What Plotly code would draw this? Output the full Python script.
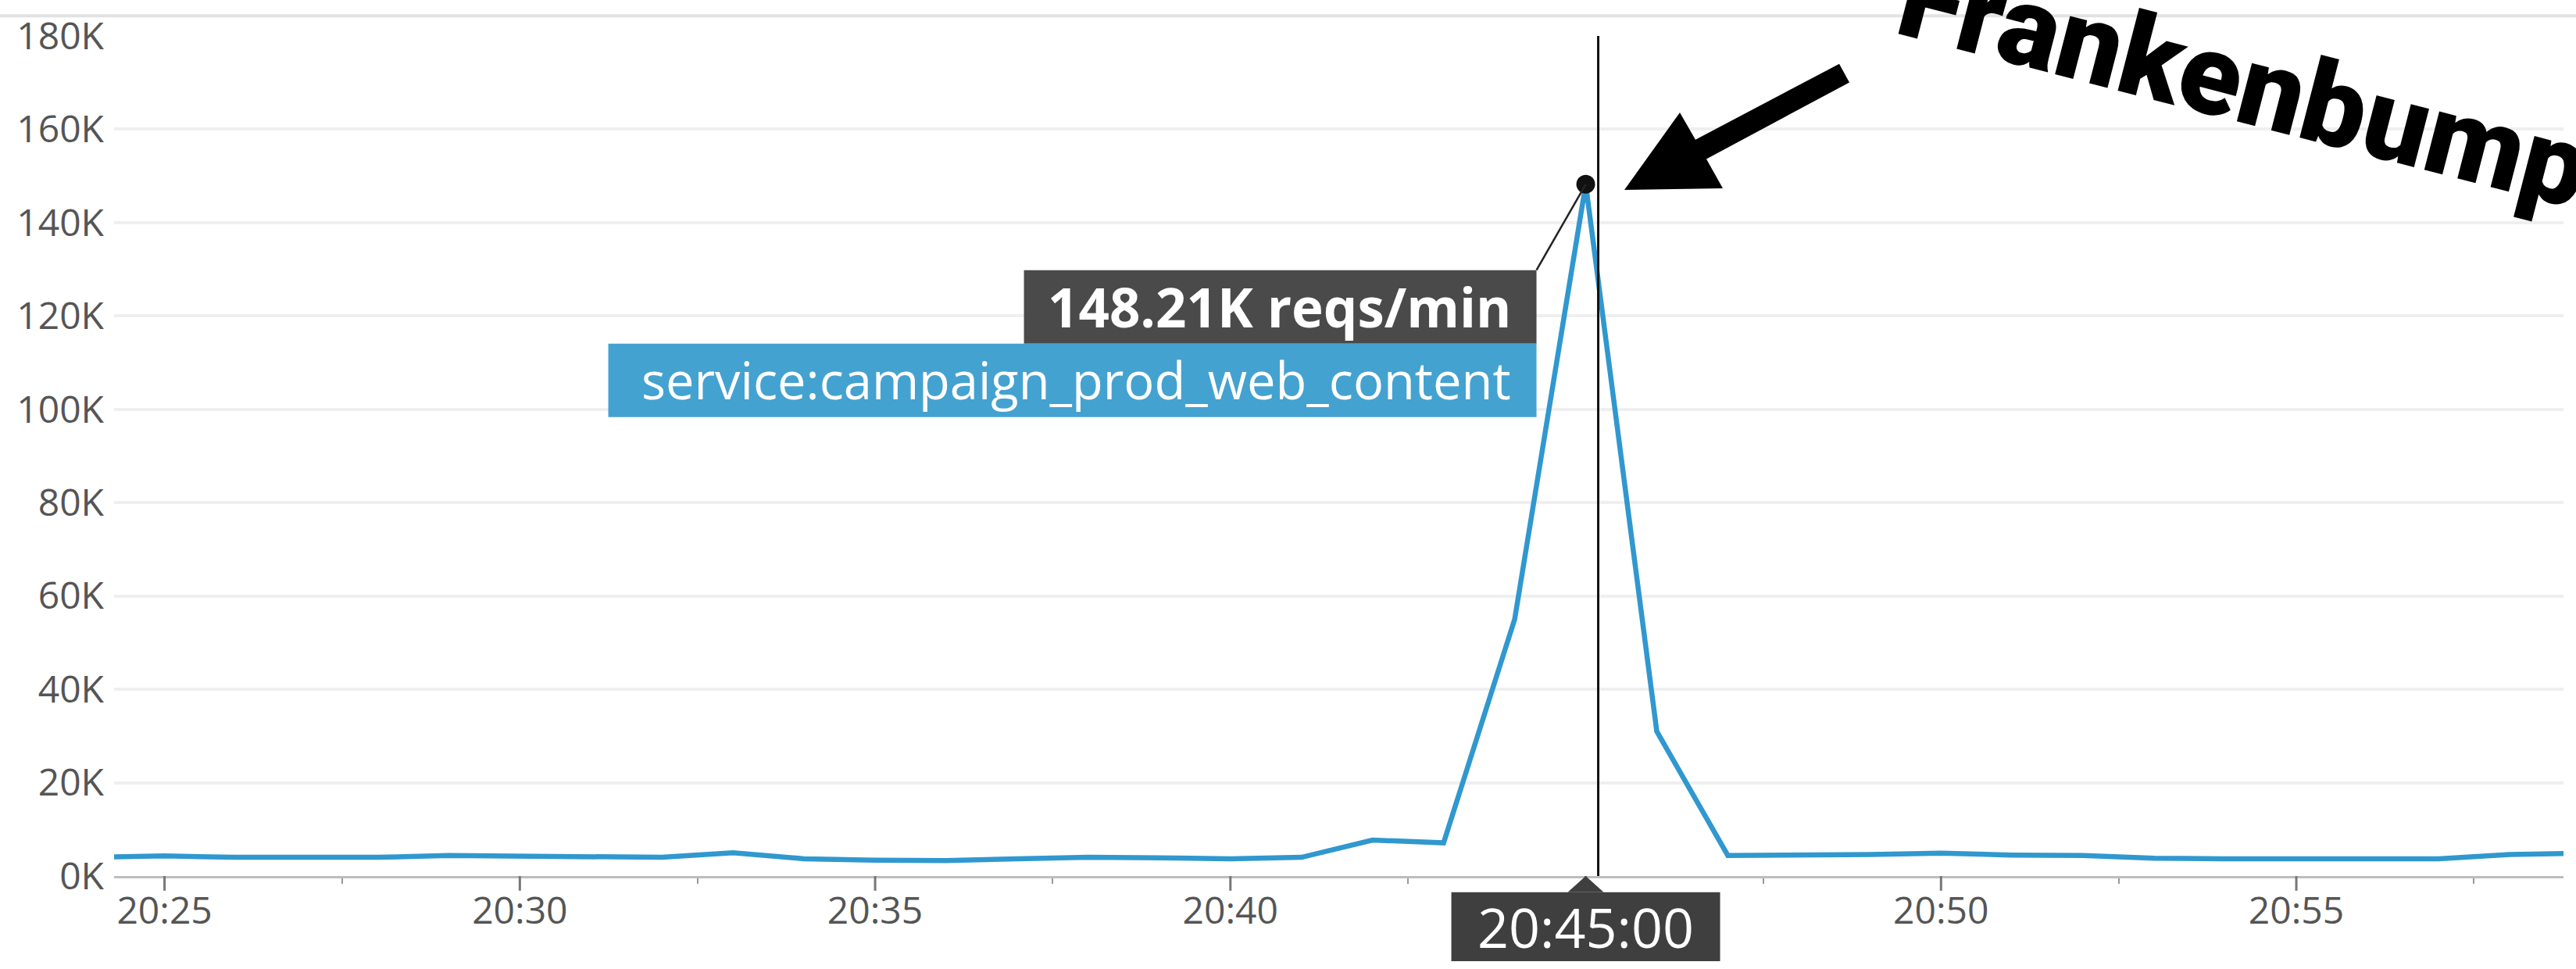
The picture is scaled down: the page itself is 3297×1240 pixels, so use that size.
import plotly.graph_objects as go
from datetime import datetime

# ---------------- data ----------------
DAY = "2018-01-01 "
minutes = ["20:24", "20:25", "20:26", "20:27", "20:28", "20:29", "20:30", "20:31", "20:32",
           "20:33", "20:34", "20:35", "20:36", "20:37", "20:38", "20:39", "20:40", "20:41",
           "20:42", "20:43", "20:44", "20:45", "20:46", "20:47", "20:48", "20:49", "20:50",
           "20:51", "20:52", "20:53", "20:54", "20:55", "20:56", "20:57", "20:58", "20:59"]
reqs_per_min = [4000, 4300, 4000, 4000, 4000, 4400, 4200, 4000, 4000,
                5000, 3700, 3400, 3300, 3700, 4000, 3900, 3700, 4000,
                7700, 7100, 55000, 148210, 31000, 4400, 4400, 4600, 4900,
                4500, 4400, 3800, 3700, 3700, 3700, 3700, 4600, 4900]
series_name = "service:campaign_prod_web_content"
unit = "reqs/min"
y_tick_values = [0, 20000, 40000, 60000, 80000, 100000, 120000, 140000, 160000, 180000]
y_tick_labels = ["0K", "20K", "40K", "60K", "80K", "100K", "120K", "140K", "160K", "180K"]
x_tick_times = ["20:25", "20:30", "20:35", "20:40", "20:45", "20:50", "20:55"]
x_tick_labels = ["20:25", "20:30", "20:35", "20:40", "", "20:50", "20:55"]  # 20:45 hidden under the cursor label
x_range = ["2018-01-01 20:24:17.4", "2018-01-01 20:58:45.6"]
y_range = [0, 180000]
callout_text = "Frankenbump"

# ---------------- geometry helpers ----------------
W, H = 3297, 1240
L, R, T, B = 146, 16, 35, 119
PW, PH = W - L - R, H - T - B

def fx(x):  # pixel x -> paper
    return (x - L) / PW

def fy(y):  # pixel y (from top) -> paper
    return (H - B - y) / PH

t0 = datetime.fromisoformat(x_range[0])
t1 = datetime.fromisoformat(x_range[1])

def tpx(t):
    return L + (t - t0).total_seconds() / (t1 - t0).total_seconds() * PW

def vpx(v):
    return H - B - (v - y_range[0]) / (y_range[1] - y_range[0]) * PH

times = [DAY + m for m in minutes]
peak_i = max(range(len(reqs_per_min)), key=lambda i: reqs_per_min[i])
peak_t = datetime.fromisoformat(times[peak_i])
peak_v = reqs_per_min[peak_i]
PX, PY = tpx(peak_t), vpx(peak_v)

LINE_BLUE = "#3098cf"
BOX_BLUE = "#44a2d0"
DARK = "#4a4a4a"
TICK_FONT = dict(family="Open Sans", size=48, color="#555555")

fig = go.Figure()
fig.add_trace(go.Scatter(x=times, y=reqs_per_min, mode="lines",
                         line=dict(color=LINE_BLUE, width=6.5), hoverinfo="skip",
                         showlegend=False))
fig.add_trace(go.Scatter(x=[times[peak_i]], y=[peak_v], mode="markers",
                         marker=dict(color="#111111", size=24), hoverinfo="skip",
                         showlegend=False))

shapes = []
# top panel border
shapes.append(dict(type="line", xref="paper", yref="paper", x0=fx(0), x1=fx(W), y0=fy(9), y1=fy(9),
                   line=dict(color="#e2e2e2", width=4), layer="below"))
# major x tick marks
for s in x_tick_times:
    shapes.append(dict(type="line", xref="x", yref="paper", x0=DAY + s, x1=DAY + s,
                       y0=fy(H - B), y1=fy(H - B + 19), line=dict(color="#777777", width=3)))
# cursor line
shapes.append(dict(type="line", xref="paper", yref="paper", x0=fx(PX + 16), x1=fx(PX + 16),
                   y0=fy(T), y1=fy(H - B), line=dict(color="#111111", width=3)))
# tooltip boxes
box_r = PX - 63
box_t = PY + 111
shapes.append(dict(type="rect", xref="paper", yref="paper", x0=fx(box_r - 656), x1=fx(box_r),
                   y0=fy(box_t), y1=fy(box_t + 95), fillcolor=DARK, line=dict(width=0)))
shapes.append(dict(type="rect", xref="paper", yref="paper", x0=fx(box_r - 1188), x1=fx(box_r),
                   y0=fy(box_t + 95), y1=fy(box_t + 190), fillcolor=BOX_BLUE, line=dict(width=0)))
# leader line
shapes.append(dict(type="line", xref="paper", yref="paper", x0=fx(PX), y0=fy(PY), x1=fx(box_r),
                   y1=fy(box_t), line=dict(color="#222222", width=2.5)))
# date box with pointer
dby0, dby1 = H - B + 21, H - B + 110
shapes.append(dict(type="rect", xref="paper", yref="paper", x0=fx(PX - 172), x1=fx(PX + 172),
                   y0=fy(dby0), y1=fy(dby1), fillcolor="#3f3f3f", line=dict(width=0)))
tri = "M {} {} L {} {} L {} {} Z".format(fx(PX - 23), fy(dby0), fx(PX), fy(H - B), fx(PX + 23), fy(dby0))
shapes.append(dict(type="path", xref="paper", yref="paper", path=tri, fillcolor="#3f3f3f",
                   line=dict(width=0)))
# arrow pointing at the bump
arrow_px = [(2079, 234), (2150, 134), (2170, 169), (2354, 71), (2367, 95), (2184, 194), (2205, 232)]
apath = "M " + " L ".join("{} {}".format(fx(a), fy(b)) for a, b in arrow_px) + " Z"
shapes.append(dict(type="path", xref="paper", yref="paper", path=apath, fillcolor="#000000",
                   line=dict(width=0)))

annotations = [
    dict(xref="paper", yref="paper", x=fx(box_r - 31), y=fy(box_t + 47), xanchor="right",
         yanchor="middle", showarrow=False, text=f"{peak_v/1000:.2f}K {unit}",
         font=dict(family="Open Sans", size=69, color="white", weight="bold")),
    dict(xref="paper", yref="paper", x=fx(box_r - 31), y=fy(box_t + 142), xanchor="right",
         yanchor="middle", showarrow=False, text=series_name,
         font=dict(family="Open Sans", size=65, color="white")),
    dict(xref="paper", yref="paper", x=fx(PX), y=fy((dby0 + dby1) / 2), xanchor="center",
         yanchor="middle", showarrow=False, text=peak_t.strftime("%H:%M:%S"),
         font=dict(family="Open Sans", size=70, color="white")),
    dict(xref="paper", yref="paper", x=fx(2872), y=fy(96), xanchor="center", yanchor="middle",
         showarrow=False, text=callout_text, textangle=14.5,
         font=dict(family="Roboto", size=146, color="black", weight=900)),
]

fig.update_layout(
    width=W, height=H, margin=dict(l=L, r=R, t=T, b=B, pad=0),
    paper_bgcolor="white", plot_bgcolor="white",
    shapes=shapes, annotations=annotations, showlegend=False,
    xaxis=dict(type="date", range=x_range,
               tickvals=[DAY + s for s in x_tick_times], ticktext=x_tick_labels,
               showgrid=False, zeroline=False, showline=True, linecolor="#bdbdbd", linewidth=3,
               ticks="",
               minor=dict(dtick=150000, tick0=DAY + "20:25", ticks="outside", ticklen=7,
                          tickwidth=2, tickcolor="#999999", showgrid=False),
               tickfont=TICK_FONT, ticklabelstandoff=0),
    yaxis=dict(range=y_range, tickvals=y_tick_values, ticktext=y_tick_labels,
               showgrid=True, gridcolor="#efefef", gridwidth=4, zeroline=False,
               showline=False, ticks="", tickfont=TICK_FONT, ticklabelstandoff=12),
)

fig.write_html("out.html", config={"displayModeBar": False},
               post_script="document.body.style.margin='0px';document.body.style.overflow='hidden';")
